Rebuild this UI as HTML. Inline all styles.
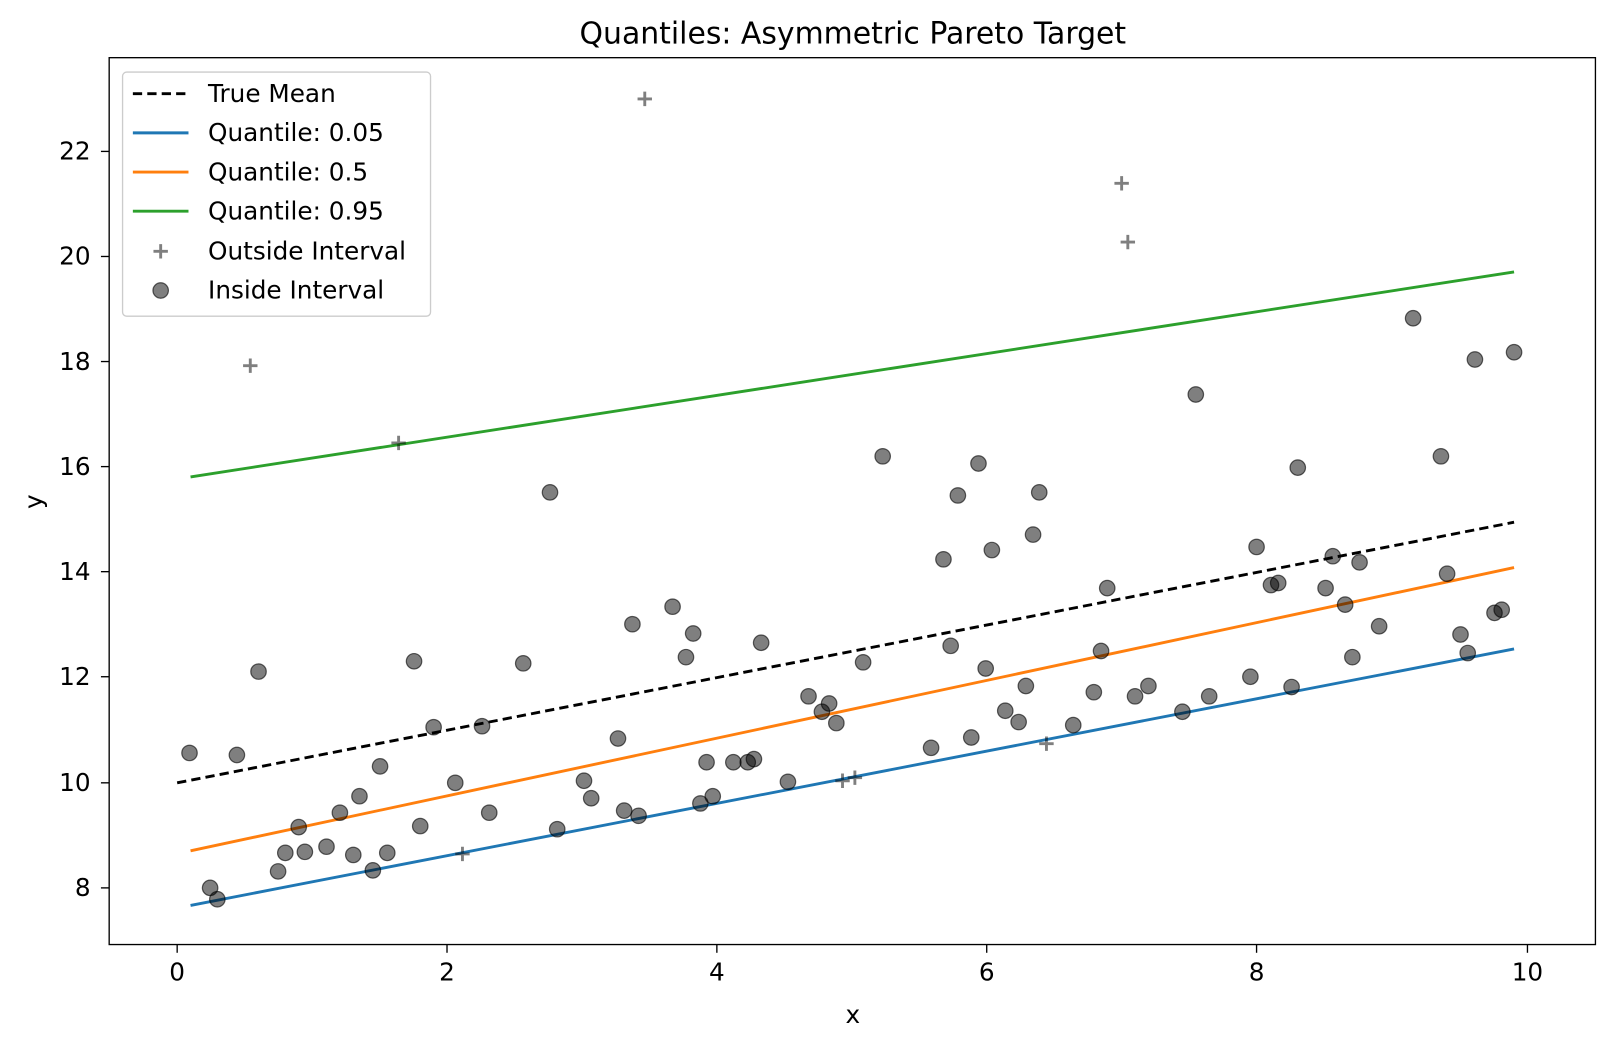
<!DOCTYPE html>
<html><head><meta charset="utf-8"><style>html,body{margin:0;padding:0;background:#fff;overflow:hidden;width:1615px;height:1046px}svg{display:block}</style></head><body>
<svg width="1615" height="1046" viewBox="0 0 1568 1015.5" preserveAspectRatio="none" xmlns="http://www.w3.org/2000/svg" font-family="DejaVu Sans, Liberation Sans, sans-serif">
<rect width="1568" height="1016" fill="#fff"/>
<text x="828" y="42" font-size="29" text-anchor="middle">Quantiles: Asymmetric Pareto Target</text>
<g stroke="#000" stroke-width="1.3">
<line x1="172" y1="917" x2="172" y2="925"/><line x1="434" y1="917" x2="434" y2="925"/><line x1="696" y1="917" x2="696" y2="925"/><line x1="958" y1="917" x2="958" y2="925"/><line x1="1220" y1="917" x2="1220" y2="925"/><line x1="1483" y1="917" x2="1483" y2="925"/>
<line x1="98" y1="862" x2="106" y2="862"/><line x1="98" y1="760" x2="106" y2="760"/><line x1="98" y1="657" x2="106" y2="657"/><line x1="98" y1="555" x2="106" y2="555"/><line x1="98" y1="453" x2="106" y2="453"/><line x1="98" y1="351" x2="106" y2="351"/><line x1="98" y1="249" x2="106" y2="249"/><line x1="98" y1="147" x2="106" y2="147"/>
</g>
<g font-size="24" text-anchor="middle">
<text x="172" y="952">0</text><text x="434" y="952">2</text><text x="696" y="952">4</text><text x="958" y="952">6</text><text x="1220" y="952">8</text><text x="1483" y="952">10</text>
<text x="828" y="993">x</text>
</g>
<g font-size="24" text-anchor="end">
<text x="88" y="870">8</text><text x="88" y="768">10</text><text x="88" y="665">12</text><text x="88" y="563">14</text><text x="88" y="461">16</text><text x="88" y="359">18</text><text x="88" y="257">20</text><text x="88" y="155">22</text>
</g>
<text x="41" y="487" font-size="24" text-anchor="middle" transform="rotate(-90 41 487)">y</text>
<line x1="172" y1="760" x2="1470" y2="507" stroke="#000" stroke-width="2.8" stroke-dasharray="9,5"/>
<line x1="185" y1="879" x2="1470" y2="630" stroke="#1f77b4" stroke-width="2.8"/>
<line x1="185" y1="826" x2="1470" y2="551" stroke="#ff7f0e" stroke-width="2.8"/>
<line x1="185" y1="463" x2="1470" y2="264" stroke="#2ca02c" stroke-width="2.8"/>
<g fill="rgba(0,0,0,0.5)" stroke="rgba(0,0,0,0.6)" stroke-width="1.2">
<circle cx="184" cy="731" r="7.5"/><circle cx="204" cy="862" r="7.5"/><circle cx="211" cy="873" r="7.5"/><circle cx="230" cy="733" r="7.5"/><circle cx="251" cy="652" r="7.5"/><circle cx="270" cy="846" r="7.5"/><circle cx="277" cy="828" r="7.5"/><circle cx="290" cy="803" r="7.5"/><circle cx="296" cy="827" r="7.5"/><circle cx="317" cy="822" r="7.5"/><circle cx="330" cy="789" r="7.5"/><circle cx="343" cy="830" r="7.5"/><circle cx="349" cy="773" r="7.5"/><circle cx="362" cy="845" r="7.5"/><circle cx="369" cy="744" r="7.5"/><circle cx="376" cy="828" r="7.5"/><circle cx="402" cy="642" r="7.5"/><circle cx="408" cy="802" r="7.5"/><circle cx="421" cy="706" r="7.5"/><circle cx="442" cy="760" r="7.5"/><circle cx="468" cy="705" r="7.5"/><circle cx="475" cy="789" r="7.5"/><circle cx="508" cy="644" r="7.5"/><circle cx="534" cy="478" r="7.5"/><circle cx="541" cy="805" r="7.5"/><circle cx="567" cy="758" r="7.5"/><circle cx="574" cy="775" r="7.5"/><circle cx="600" cy="717" r="7.5"/><circle cx="606" cy="787" r="7.5"/><circle cx="614" cy="606" r="7.5"/><circle cx="620" cy="792" r="7.5"/><circle cx="653" cy="589" r="7.5"/><circle cx="666" cy="638" r="7.5"/><circle cx="673" cy="615" r="7.5"/><circle cx="680" cy="780" r="7.5"/><circle cx="686" cy="740" r="7.5"/><circle cx="692" cy="773" r="7.5"/><circle cx="712" cy="740" r="7.5"/><circle cx="726" cy="740" r="7.5"/><circle cx="732" cy="737" r="7.5"/><circle cx="739" cy="624" r="7.5"/><circle cx="765" cy="759" r="7.5"/><circle cx="785" cy="676" r="7.5"/><circle cx="798" cy="691" r="7.5"/><circle cx="805" cy="683" r="7.5"/><circle cx="812" cy="702" r="7.5"/><circle cx="838" cy="643" r="7.5"/><circle cx="857" cy="443" r="7.5"/><circle cx="904" cy="726" r="7.5"/><circle cx="916" cy="543" r="7.5"/><circle cx="923" cy="627" r="7.5"/><circle cx="930" cy="481" r="7.5"/><circle cx="943" cy="716" r="7.5"/><circle cx="950" cy="450" r="7.5"/><circle cx="957" cy="649" r="7.5"/><circle cx="963" cy="534" r="7.5"/><circle cx="976" cy="690" r="7.5"/><circle cx="989" cy="701" r="7.5"/><circle cx="996" cy="666" r="7.5"/><circle cx="1003" cy="519" r="7.5"/><circle cx="1009" cy="478" r="7.5"/><circle cx="1042" cy="704" r="7.5"/><circle cx="1062" cy="672" r="7.5"/><circle cx="1069" cy="632" r="7.5"/><circle cx="1075" cy="571" r="7.5"/><circle cx="1102" cy="676" r="7.5"/><circle cx="1115" cy="666" r="7.5"/><circle cx="1148" cy="691" r="7.5"/><circle cx="1161" cy="383" r="7.5"/><circle cx="1174" cy="676" r="7.5"/><circle cx="1214" cy="657" r="7.5"/><circle cx="1220" cy="531" r="7.5"/><circle cx="1234" cy="568" r="7.5"/><circle cx="1241" cy="566" r="7.5"/><circle cx="1254" cy="667" r="7.5"/><circle cx="1260" cy="454" r="7.5"/><circle cx="1287" cy="571" r="7.5"/><circle cx="1294" cy="540" r="7.5"/><circle cx="1306" cy="587" r="7.5"/><circle cx="1313" cy="638" r="7.5"/><circle cx="1320" cy="546" r="7.5"/><circle cx="1339" cy="608" r="7.5"/><circle cx="1372" cy="309" r="7.5"/><circle cx="1399" cy="443" r="7.5"/><circle cx="1405" cy="557" r="7.5"/><circle cx="1418" cy="616" r="7.5"/><circle cx="1425" cy="634" r="7.5"/><circle cx="1432" cy="349" r="7.5"/><circle cx="1451" cy="595" r="7.5"/><circle cx="1458" cy="592" r="7.5"/><circle cx="1470" cy="342" r="7.5"/>
</g>
<g stroke="rgba(0,0,0,0.5)" stroke-width="2.8" fill="none">
<path d="M236 355h14M243 348v14M380 430h14M387 423v14M442 829h14M449 822v14M619 96h14M626 89v14M811 758h14M818 751v14M823 755h14M830 748v14M1009 722h14M1016 715v14M1082 178h14M1089 171v14M1088 235h14M1095 228v14"/>
</g>
<rect x="106" y="56" width="1443" height="861" fill="none" stroke="#000" stroke-width="1.3"/>
<rect x="119" y="70" width="299" height="237" rx="4" fill="rgba(255,255,255,0.8)" stroke="#ccc" stroke-width="1.3"/>
<line x1="129" y1="91" x2="183" y2="91" stroke="#000" stroke-width="2.8" stroke-dasharray="9,5"/>
<line x1="129" y1="129" x2="183" y2="129" stroke="#1f77b4" stroke-width="2.8"/>
<line x1="129" y1="167" x2="183" y2="167" stroke="#ff7f0e" stroke-width="2.8"/>
<line x1="129" y1="205" x2="183" y2="205" stroke="#2ca02c" stroke-width="2.8"/>
<path d="M149 244h14M156 237v14" stroke="rgba(0,0,0,0.5)" stroke-width="2.8"/>
<circle cx="156" cy="282" r="7.5" fill="rgba(0,0,0,0.5)" stroke="rgba(0,0,0,0.6)" stroke-width="1.2"/>
<g font-size="24">
<text x="202" y="99">True Mean</text><text x="202" y="137">Quantile: 0.05</text><text x="202" y="175">Quantile: 0.5</text><text x="202" y="213">Quantile: 0.95</text><text x="202" y="252">Outside Interval</text><text x="202" y="290">Inside Interval</text>
</g>
</svg>
</body></html>
